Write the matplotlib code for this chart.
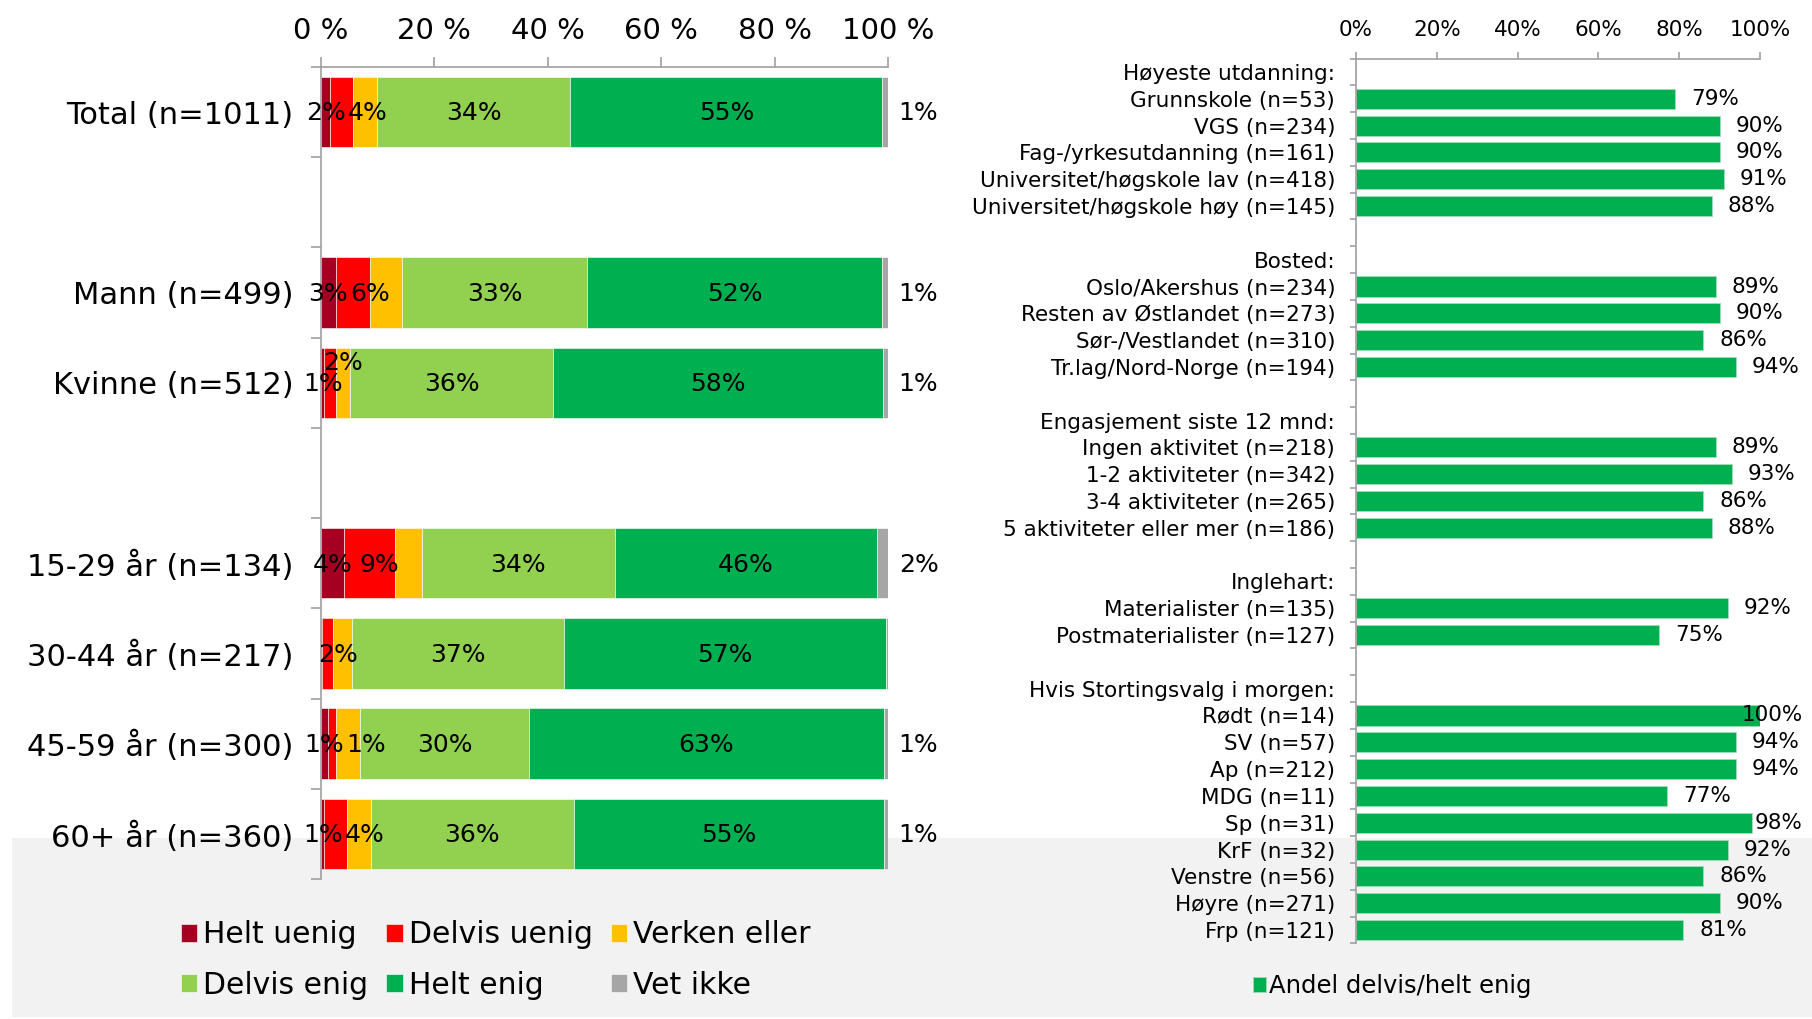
import matplotlib
matplotlib.use("Agg")
import matplotlib.pyplot as plt
from matplotlib.patches import Rectangle
import numpy as np

plt.rcParams['font.family'] = ['DejaVu Sans']

# ---------------- data: left panel ----------------
left_categories = ["Total (n=1011)", "", "Mann (n=499)", "Kvinne (n=512)", "",
                   "15-29 år (n=134)", "30-44 år (n=217)", "45-59 år (n=300)", "60+ år (n=360)"]
series_names = ["Helt uenig", "Delvis uenig", "Verken eller", "Delvis enig", "Helt enig", "Vet ikke"]
helt_uenig   = [1.6, 0, 2.6, 0.6, 0, 4.0, 0.2, 1.2, 0.6]
delvis_uenig = [4.0, 0, 6.0, 2.0, 0, 9.0, 1.9, 1.4, 4.0]
verken_eller = [4.2, 0, 5.6, 2.6, 0, 4.8, 3.4, 4.3, 4.2]
delvis_enig  = [34.2, 0, 32.8, 35.8, 0, 34.0, 37.4, 29.8, 35.8]
helt_enig    = [55.0, 0, 52.0, 58.1, 0, 46.2, 56.7, 62.6, 54.7]
vet_ikke     = [1.0, 0, 1.0, 0.9, 0, 2.0, 0.4, 0.7, 0.7]

# which data labels are shown in the original
show_helt_uenig   = [1, 0, 1, 1, 0, 1, 0, 1, 1]
show_delvis_uenig = [1, 0, 1, 1, 0, 1, 1, 1, 1]
show_verken_eller = [0, 0, 0, 0, 0, 0, 0, 0, 0]
show_delvis_enig  = [1, 0, 1, 1, 0, 1, 1, 1, 1]
show_helt_enig    = [1, 0, 1, 1, 0, 1, 1, 1, 1]
show_vet_ikke     = [1, 0, 1, 1, 0, 1, 0, 1, 1]

left_xticks = [0, 20, 40, 60, 80, 100]

# ---------------- data: right panel ----------------
right_categories = [
    "Høyeste utdanning:", "Grunnskole (n=53)", "VGS (n=234)", "Fag-/yrkesutdanning (n=161)",
    "Universitet/høgskole lav (n=418)", "Universitet/høgskole høy (n=145)", "",
    "Bosted:", "Oslo/Akershus (n=234)", "Resten av Østlandet (n=273)", "Sør-/Vestlandet (n=310)",
    "Tr.lag/Nord-Norge (n=194)", "",
    "Engasjement siste 12 mnd:", "Ingen aktivitet (n=218)", "1-2 aktiviteter (n=342)",
    "3-4 aktiviteter (n=265)", "5 aktiviteter eller mer (n=186)", "",
    "Inglehart:", "Materialister (n=135)", "Postmaterialister (n=127)", "",
    "Hvis Stortingsvalg i morgen:", "Rødt (n=14)", "SV (n=57)", "Ap (n=212)", "MDG (n=11)",
    "Sp (n=31)", "KrF (n=32)", "Venstre (n=56)", "Høyre (n=271)", "Frp (n=121)"]
nan = np.nan
right_values = [nan, 79, 90, 90, 91, 88, nan,
                nan, 89, 90, 86, 94, nan,
                nan, 89, 93, 86, 88, nan,
                nan, 92, 75, nan,
                nan, 100, 94, 94, 77, 98, 92, 86, 90, 81]
right_series_name = "Andel delvis/helt enig"
right_xticks = [0, 20, 40, 60, 80, 100]

# ---------------- style ----------------
colors = ["#A50021", "#FF0000", "#FFC000", "#92D050", "#00B050", "#A6A6A6"]
spine_col = "#A0A0A0"
W, H = 1812, 1019
PX2PT = 72 / 100

fig = plt.figure(figsize=(W / 100, H / 100), dpi=100)
fig.patch.set_facecolor("white")
fig.patches.append(Rectangle((12 / W, 0.002), 1 - 12 / W, 1 - 838 / H - 0.002,
                             transform=fig.transFigure, facecolor="#F2F2F2",
                             edgecolor="none", zorder=-10))

def style_axes(ax, ncat, ytick_len, xtick_len, xpad, ypad, xlabsize, ylabsize):
    ax.set_facecolor("none")
    for s in ["right", "bottom"]:
        ax.spines[s].set_visible(False)
    for s in ["top", "left"]:
        ax.spines[s].set_color(spine_col)
        ax.spines[s].set_linewidth(1.2)
    ax.xaxis.tick_top()
    ax.tick_params(axis="x", which="major", direction="out", length=xtick_len, width=1.2,
                   color=spine_col, pad=xpad, labelsize=xlabsize, labelcolor="black")
    ax.set_yticks(np.arange(-0.5, ncat, 1.0), minor=True)
    ax.tick_params(axis="y", which="minor", direction="out", length=ytick_len, width=1.2,
                   color=spine_col)
    ax.tick_params(axis="y", which="major", length=0, pad=ypad, labelsize=ylabsize,
                   labelcolor="black")
    ax.set_ylim(ncat - 0.5, -0.5)

# ---------------- left panel ----------------
axL = fig.add_axes([321 / W, 1 - 879 / H, 567 / W, 812 / H])
nL = len(left_categories)
yL = np.arange(nL)
all_series = [helt_uenig, delvis_uenig, verken_eller, delvis_enig, helt_enig, vet_ikke]
all_show = [show_helt_uenig, show_delvis_uenig, show_verken_eller, show_delvis_enig,
            show_helt_enig, show_vet_ikke]
left = np.zeros(nL)
bars_list = []
for name, vals, col in zip(series_names, all_series, colors):
    vals = np.array(vals, dtype=float)
    axL.barh(yL, vals, left=left, height=0.78, color=col, edgecolor="white",
             linewidth=0.4, label=name)
    bars_list.append((vals, left.copy()))
    left = left + vals

axL.set_xlim(0, 100)
axL.set_xticks(left_xticks)
axL.set_xticklabels([f"{t} %" for t in left_xticks])
axL.set_yticks(yL)
axL.set_yticklabels(left_categories)
style_axes(axL, nL, ytick_len=7, xtick_len=7, xpad=9, ypad=20, xlabsize=21, ylabsize=22)

lab_fs = 18
dr_texts = {}
red_texts = []
for si, ((vals, lefts), show) in enumerate(zip(bars_list, all_show)):
    for i in range(nL):
        if not show[i]:
            continue
        txt = f"{round(vals[i]):d}%"
        center = lefts[i] + vals[i] / 2
        if si == 1:  # Delvis uenig
            raised = left_categories[i].startswith("Kvinne")
            dy = 15 if raised else 0
            dx = 13 if raised else 10
            t = axL.annotate(txt, (center, yL[i]), xytext=(dx * PX2PT, dy - 1),
                             textcoords="offset points", ha="center", va="center",
                             fontsize=lab_fs, color="black")
            red_texts.append((i, t, dy))
        elif si == 5:  # Vet ikke: label outside the bar
            axL.annotate(txt, (100, yL[i]), xytext=(22, -1), textcoords="offset points",
                         ha="center", va="center", fontsize=lab_fs, color="black")
        else:
            t = axL.annotate(txt, (center, yL[i]), xytext=(0, -1), textcoords="offset points",
                             ha="center", va="center", fontsize=lab_fs, color="black")
            if si == 0:
                dr_texts[i] = t

# ---------------- right panel ----------------
axR = fig.add_axes([1356 / W, 1 - 943.4 / H, 404 / W, 884.8 / H])
nR = len(right_categories)
yR = np.arange(nR)
rv = np.array(right_values, dtype=float)
axR.barh(yR, np.nan_to_num(rv), height=0.75, color="#00B050", edgecolor="#9FDDB8",
         linewidth=0.6, label=right_series_name)
axR.set_xlim(0, 100)
axR.set_xticks(right_xticks)
axR.set_xticklabels([f"{t}%" for t in right_xticks])
axR.set_yticks(yR)
axR.set_yticklabels(right_categories)
style_axes(axR, nR, ytick_len=4, xtick_len=5, xpad=8.5, ypad=15, xlabsize=15.5, ylabsize=15.5)

rtexts = []
for i, v in enumerate(rv):
    if np.isnan(v):
        continue
    t = axR.annotate(f"{int(v)}%", (v, yR[i]), xytext=(11.5, 0), textcoords="offset points",
                     ha="left", va="center", fontsize=15.5, color="black")
    rtexts.append(t)

# ---------------- label collision handling (like Excel) ----------------
fig.canvas.draw()
renderer = fig.canvas.get_renderer()
for i, t, dy in red_texts:
    if dy != 0 or i not in dr_texts:
        continue
    bb_dr = dr_texts[i].get_window_extent(renderer)
    bb = t.get_window_extent(renderer)
    w = bb.width
    cur_center = (bb.x0 + bb.x1) / 2
    need = bb_dr.x1 + w / 2 + 2
    if need > cur_center:
        ox, oy = t.xyann
        t.xyann = (ox + (need - cur_center) * PX2PT, oy)

limit_px = 1803
for t in rtexts:
    bb = t.get_window_extent(renderer)
    if bb.x1 > limit_px:
        ox, oy = t.xyann
        t.xyann = (ox - (bb.x1 - limit_px) * PX2PT, oy)

# ---------------- legends ----------------
handles, labels = axL.get_legend_handles_labels()
order = [0, 3, 1, 4, 2, 5]
fig.legend([handles[k] for k in order], [labels[k] for k in order], ncol=3,
           loc="center left", bbox_to_anchor=(181 / W, 1 - 960 / H), frameon=False,
           fontsize=21.5, handlelength=0.55, handleheight=0.55, handletextpad=0.2,
           columnspacing=0.6, labelspacing=0.72, borderpad=0, borderaxespad=0)

hR, lR = axR.get_legend_handles_labels()
fig.legend(hR, lR, loc="center left", bbox_to_anchor=(1253 / W, 1 - 986 / H), frameon=False,
           fontsize=17.5, handlelength=0.55, handleheight=0.55, handletextpad=0.1,
           borderpad=0, borderaxespad=0)

fig.savefig("out.png", dpi=100, facecolor=fig.get_facecolor())
